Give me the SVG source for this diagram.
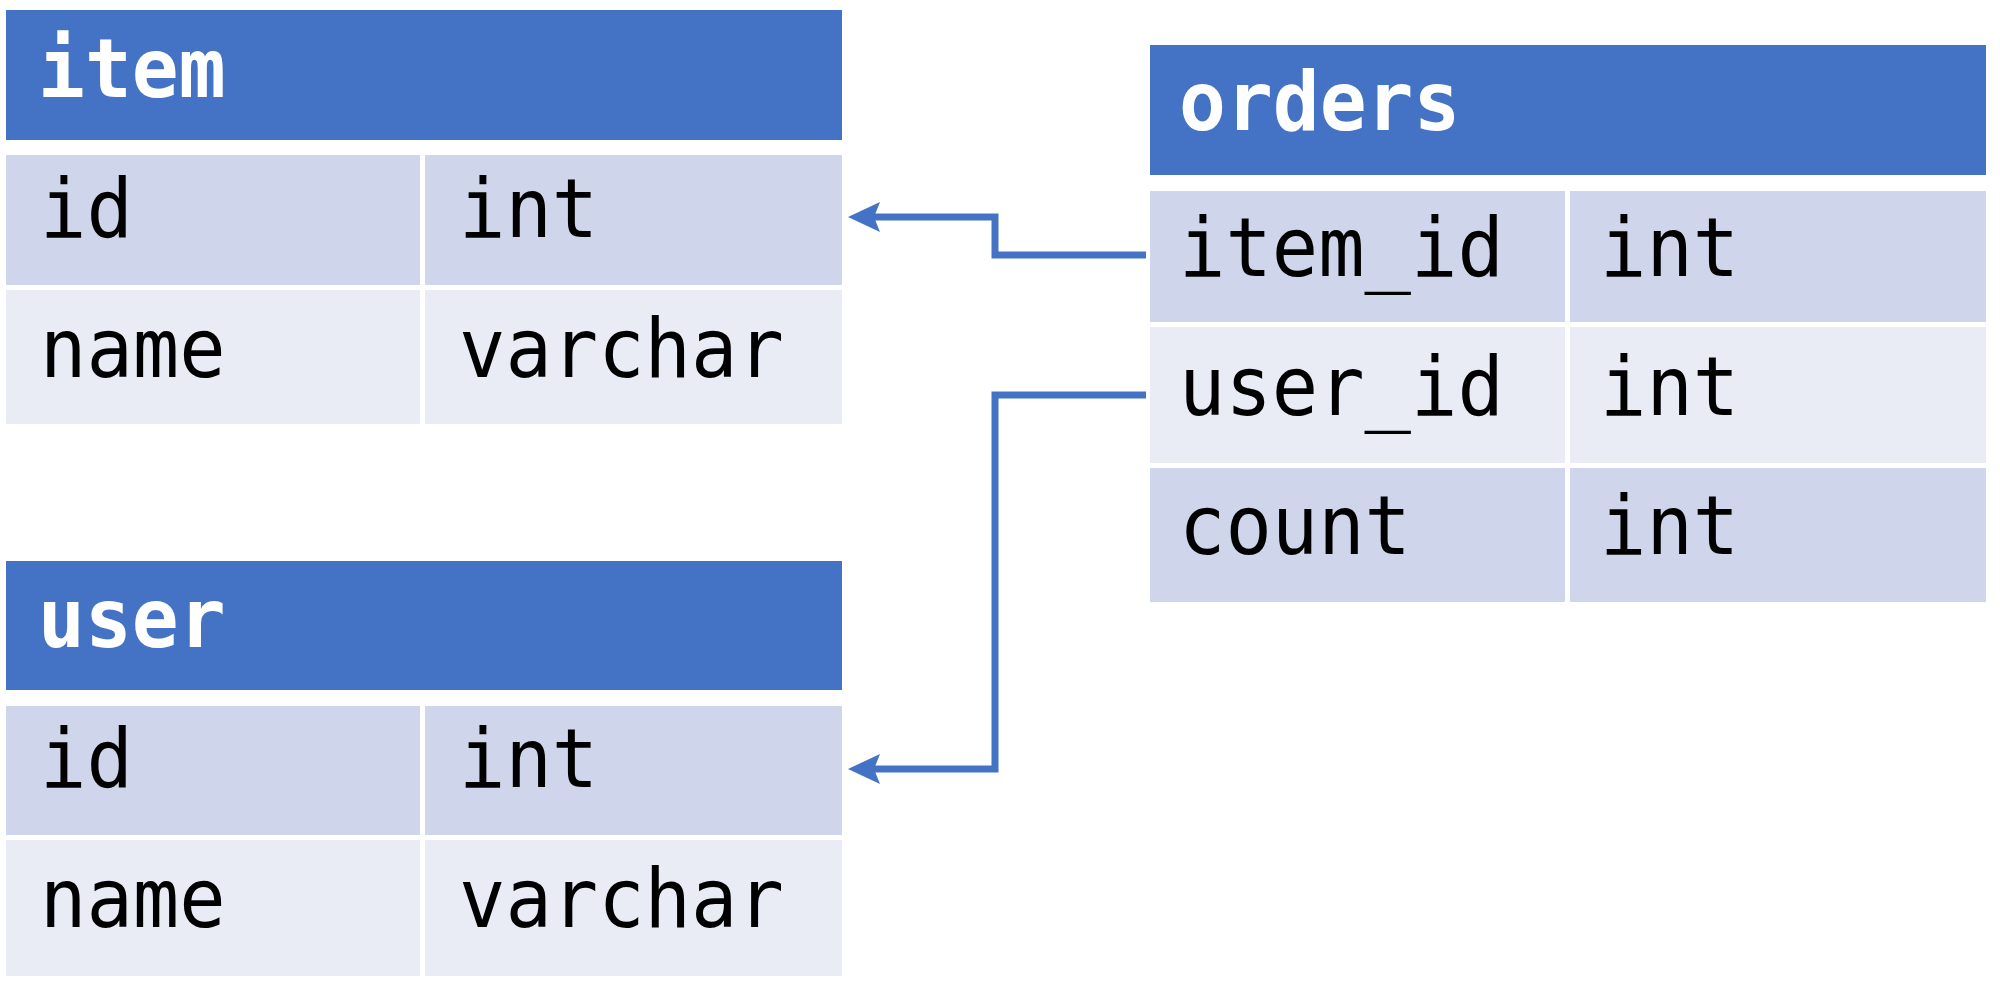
<svg xmlns="http://www.w3.org/2000/svg" width="2000" height="995" viewBox="0 0 2000 995">
<defs>
<style>
.hd{fill:#4472C4}
.r1{fill:#CFD5EA}
.r2{fill:#E9EBF5}
.ht{font-family:"DejaVu Sans Mono","Liberation Mono",monospace;font-size:82px;font-weight:bold;fill:#FFFFFF}
.ct{font-family:"DejaVu Sans Mono","Liberation Mono",monospace;font-size:82px;fill:#000000}
.cn{fill:none;stroke:#4472C4;stroke-width:7}
</style>
<marker id="ah" markerUnits="userSpaceOnUse" markerWidth="40" markerHeight="40" viewBox="0 0 40 40" refX="20" refY="20" orient="auto">
<path d="M38,20 L6,5 L12,20 L6,35 Z" fill="#4472C4"/>
</marker>
</defs>
<rect width="2000" height="995" fill="#FFFFFF"/>
<g id="item">
<rect class="hd" x="6" y="10" width="836" height="130"/>
<text class="ht" transform="translate(38,97) scale(0.95,1)">item</text>
<rect class="r1" x="6" y="155" width="414" height="130"/>
<rect class="r1" x="425" y="155" width="417" height="130"/>
<rect class="r2" x="6" y="290" width="414" height="134"/>
<rect class="r2" x="425" y="290" width="417" height="134"/>
<text class="ct" transform="translate(40,237) scale(0.94,1)">id</text>
<text class="ct" transform="translate(459,237) scale(0.94,1)">int</text>
<text class="ct" transform="translate(40,377) scale(0.94,1)">name</text>
<text class="ct" transform="translate(459,377) scale(0.94,1)">varchar</text>
</g>
<g id="user">
<rect class="hd" x="6" y="561" width="836" height="129"/>
<text class="ht" transform="translate(38,647) scale(0.95,1)">user</text>
<rect class="r1" x="6" y="706" width="414" height="129"/>
<rect class="r1" x="425" y="706" width="417" height="129"/>
<rect class="r2" x="6" y="840" width="414" height="136"/>
<rect class="r2" x="425" y="840" width="417" height="136"/>
<text class="ct" transform="translate(40,787) scale(0.94,1)">id</text>
<text class="ct" transform="translate(459,787) scale(0.94,1)">int</text>
<text class="ct" transform="translate(40,927) scale(0.94,1)">name</text>
<text class="ct" transform="translate(459,927) scale(0.94,1)">varchar</text>
</g>
<g id="orders">
<rect class="hd" x="1150" y="45" width="836" height="130"/>
<text class="ht" transform="translate(1179,130) scale(0.95,1)">orders</text>
<rect class="r1" x="1150" y="191" width="415" height="131"/>
<rect class="r1" x="1570" y="191" width="416" height="131"/>
<rect class="r2" x="1150" y="327" width="415" height="136"/>
<rect class="r2" x="1570" y="327" width="416" height="136"/>
<rect class="r1" x="1150" y="468" width="415" height="134"/>
<rect class="r1" x="1570" y="468" width="416" height="134"/>
<text class="ct" transform="translate(1179,276) scale(0.94,1)">item_id</text>
<text class="ct" transform="translate(1600,276) scale(0.94,1)">int</text>
<text class="ct" transform="translate(1179,415) scale(0.94,1)">user_id</text>
<text class="ct" transform="translate(1600,415) scale(0.94,1)">int</text>
<text class="ct" transform="translate(1179,554) scale(0.94,1)">count</text>
<text class="ct" transform="translate(1600,554) scale(0.94,1)">int</text>
</g>
<g id="connectors">
<path class="cn" d="M1146,255 L995,255 L995,217 L866,217" marker-end="url(#ah)"/>
<path class="cn" d="M1146,395 L995,395 L995,769 L866,769" marker-end="url(#ah)"/>
</g>
</svg>
